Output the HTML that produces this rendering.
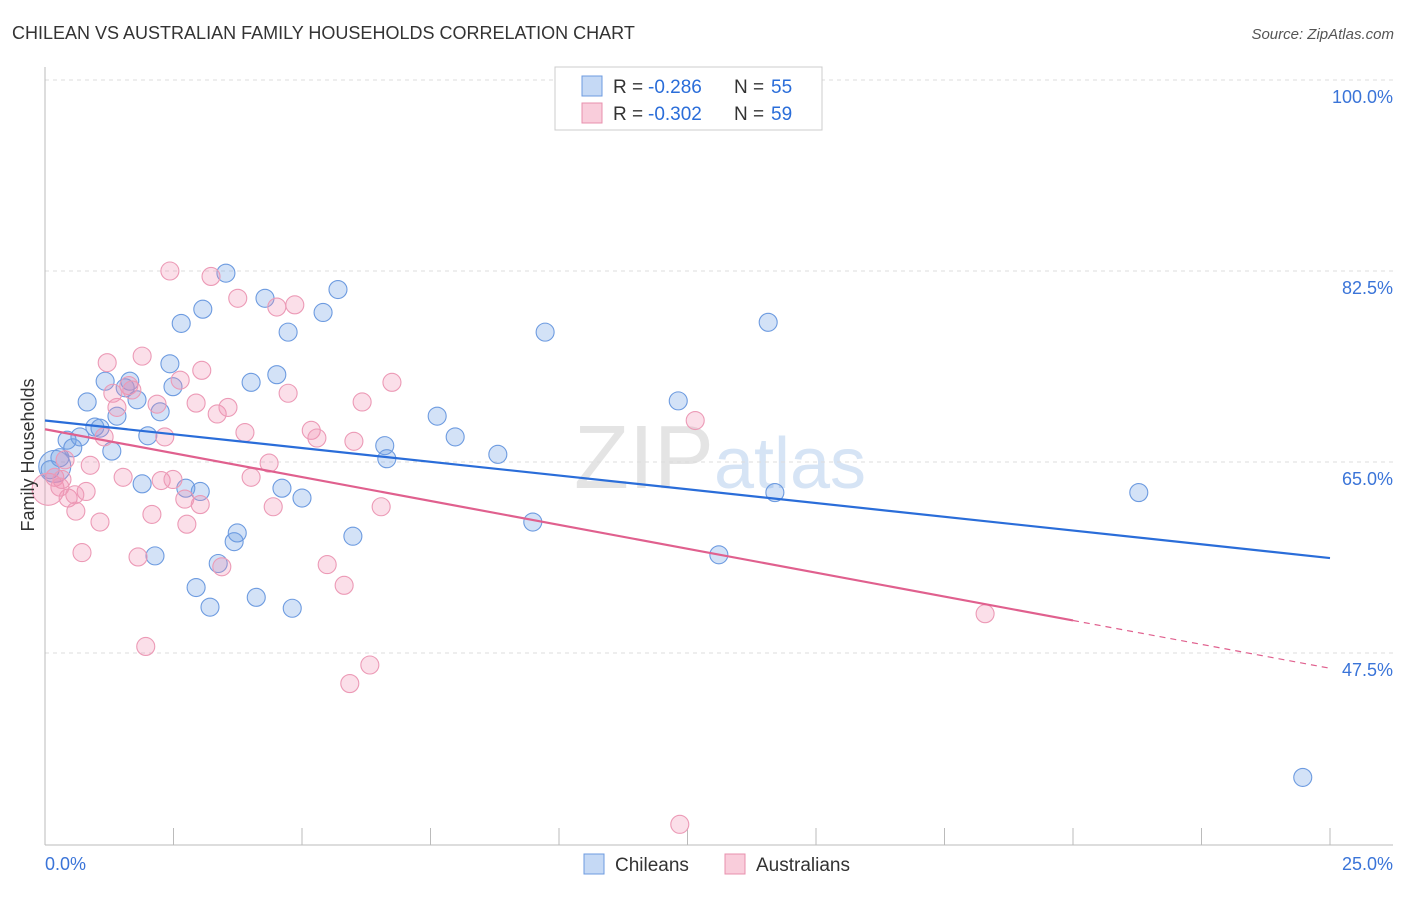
<!DOCTYPE html>
<html><head><meta charset="utf-8"><style>
body{margin:0;background:#fff;font-family:"Liberation Sans",sans-serif}
svg text{font-family:"Liberation Sans",sans-serif}
</style></head><body>
<svg id="chart" width="1406" height="892" xmlns="http://www.w3.org/2000/svg">
<text x="12" y="39" font-size="18" fill="#333">CHILEAN VS AUSTRALIAN FAMILY HOUSEHOLDS CORRELATION CHART</text>
<text x="1394" y="39" font-size="15" fill="#555" text-anchor="end" font-style="italic">Source: ZipAtlas.com</text>
<text x="720" y="488" font-size="90" fill="#e4e4e4" text-anchor="middle" font-family="Liberation Serif">ZIP<tspan fill="#d6e4f5" font-family="Liberation Sans" font-size="72">atlas</tspan></text>
<g id="grid"></g>
<g id="axes"></g>
<g id="pts"></g>
<g id="trend"></g>
<text x="34" y="455" font-size="18" fill="#333" text-anchor="middle" transform="rotate(-90 34 455)">Family Households</text>
<g>
<rect x="555" y="67" width="267" height="63" fill="#fff" stroke="#ccc"/>
<rect x="582" y="76" width="20" height="20" fill="#c5d9f5" stroke="#6d9be0"/>
<rect x="582" y="103" width="20" height="20" fill="#f9cddb" stroke="#e890ae"/>
<text y="93" font-size="19" fill="#333"><tspan x="613">R =</tspan><tspan x="648" fill="#2a6dd9">-0.286</tspan><tspan x="734">N =</tspan><tspan x="771" fill="#2a6dd9">55</tspan></text>
<text y="120" font-size="19" fill="#333"><tspan x="613">R =</tspan><tspan x="648" fill="#2a6dd9">-0.302</tspan><tspan x="734">N =</tspan><tspan x="771" fill="#2a6dd9">59</tspan></text>
</g>
<g>
<rect x="584" y="854" width="20" height="20" fill="#c5d9f5" stroke="#6d9be0"/>
<text x="615" y="871" font-size="19" fill="#333">Chileans</text>
<rect x="725" y="854" width="20" height="20" fill="#f9cddb" stroke="#e890ae"/>
<text x="756" y="871" font-size="19" fill="#333">Australians</text>
</g>
</svg>
<script>
const blueX=[0.19,0.29,0.43,0.54,0.68,0.82,0.97,1.07,1.17,1.30,1.40,1.56,1.65,1.79,2.00,1.89,2.14,2.24,2.43,2.49,2.65,2.74,2.94,3.02,3.07,3.21,3.37,3.52,3.68,3.74,4.01,4.11,4.28,4.51,4.61,4.73,4.81,5.00,5.41,5.70,5.99,6.61,6.65,7.63,7.98,8.81,9.49,9.73,12.32,13.11,14.07,14.20,21.28,24.47,0.10];
const blueY=[64.6,65.4,67.0,66.3,67.3,70.5,68.2,68.1,72.4,66.0,69.2,71.8,72.4,70.7,67.4,63.0,56.4,69.6,74.0,71.9,77.7,62.6,53.5,62.3,79.0,51.7,55.7,82.3,57.7,58.5,72.3,52.6,80.0,73.0,62.6,76.9,51.6,61.7,78.7,80.8,58.2,66.5,65.3,69.2,67.3,65.7,59.5,76.9,70.6,56.5,77.8,62.2,62.2,36.1,64.3];
const pinkX=[0.06,0.19,0.33,0.45,0.60,0.72,0.80,0.88,1.07,1.15,1.21,1.32,1.40,1.52,1.63,1.69,1.81,1.89,1.96,2.08,2.18,2.26,2.33,2.43,2.49,2.63,2.72,2.76,2.94,3.02,3.05,3.23,3.35,3.44,3.56,3.75,3.89,4.01,4.36,4.44,4.51,4.73,4.86,5.18,5.29,5.49,5.82,5.93,6.01,6.17,6.32,6.54,6.75,12.65,18.29,12.35,0.39,0.29,0.58];
const pinkY=[62.5,63.6,63.4,61.7,60.5,56.7,62.3,64.7,59.5,67.3,74.1,71.3,70.0,63.6,72.0,71.6,56.3,74.7,48.1,60.2,70.3,63.3,67.3,82.5,63.4,72.5,61.6,59.3,70.4,61.1,73.4,82.0,69.4,55.4,70.0,80.0,67.7,63.6,64.9,60.9,79.2,71.3,79.4,67.9,67.2,55.6,53.7,44.7,66.9,70.5,46.4,60.9,72.3,68.8,51.1,31.8,65.2,62.7,62.0];
const blueTrend=[68.8,56.2];
const pinkTrend=[68.0,46.1];
const pinkSolidEnd=20.0;
const yTicks=[100,82.5,65,47.5];
const yTickLabels=["100.0%","82.5%","65.0%","47.5%"];
const xTickCount=10;
const NS="http://www.w3.org/2000/svg";
const X0=45,X1=1330,XMAX=25;
function sx(v){return X0+(X1-X0)*v/XMAX;}
function sy(v){return 80+(100-v)*191/17.5;}
function mk(tag,attrs,parent){const e=document.createElementNS(NS,tag);for(const k in attrs)e.setAttribute(k,attrs[k]);parent.appendChild(e);return e;}
const grid=document.getElementById('grid'),axes=document.getElementById('axes'),pts=document.getElementById('pts'),tr=document.getElementById('trend');
yTicks.forEach((t,i)=>{
 const l=mk('line',{x1:45,x2:1393,y1:sy(t),y2:sy(t),stroke:'#ddd','stroke-dasharray':'4,4'},grid);
 
 
 const tx=mk('text',{x:1393,y:sy(t)+23,'font-size':18,fill:'#3a74d8','text-anchor':'end'},grid);
 tx.textContent=yTickLabels[i];
 
 
});
const ya=mk('line',{x1:45,x2:45,y1:67,y2:845,stroke:'#bbb'},axes);


const xa=mk('line',{x1:45,x2:1393,y1:845,y2:845,stroke:'#bbb'},axes);


for(let i=0;i<=xTickCount;i++){
 const v=XMAX*i/xTickCount;
 const t=mk('line',{x1:sx(v),x2:sx(v),y1:828,y2:845,stroke:'#bbb'},axes);
 
 
}
const xl0=mk('text',{x:45,y:870,'font-size':18,fill:'#3a74d8'},axes);xl0.textContent='0.0%';


const xl1=mk('text',{x:1393,y:870,'font-size':18,fill:'#3a74d8','text-anchor':'end'},axes);xl1.textContent='25.0%';


function drawPts(xs,ys,fill,stroke,name,bigIdx){
 xs.forEach((x,i)=>{
  const c=mk('circle',{cx:sx(x),cy:sy(ys[i]),r:i===bigIdx?16:9,fill:fill,stroke:stroke,'stroke-width':1.1},pts);
  
  
 });
}
drawPts(blueX,blueY,'rgba(110,160,230,0.3)','#6d9be0','chilean-point',0);
drawPts(pinkX,pinkY,'rgba(240,140,175,0.28)','#ec9ab6','australian-point',0);
const bl=mk('line',{x1:sx(0),y1:sy(blueTrend[0]),x2:sx(XMAX),y2:sy(blueTrend[1]),stroke:'#2a6dd9','stroke-width':2.2},tr);


const pe=pinkTrend[0]+(pinkTrend[1]-pinkTrend[0])*pinkSolidEnd/XMAX;
const pl=mk('line',{x1:sx(0),y1:sy(pinkTrend[0]),x2:sx(pinkSolidEnd),y2:sy(pe),stroke:'#e0608e','stroke-width':2.2},tr);


const pd=mk('line',{x1:sx(pinkSolidEnd),y1:sy(pe),x2:sx(XMAX),y2:sy(pinkTrend[1]),stroke:'#e0608e','stroke-width':1.2,'stroke-dasharray':'6,5'},tr);


</script>
</body></html>
